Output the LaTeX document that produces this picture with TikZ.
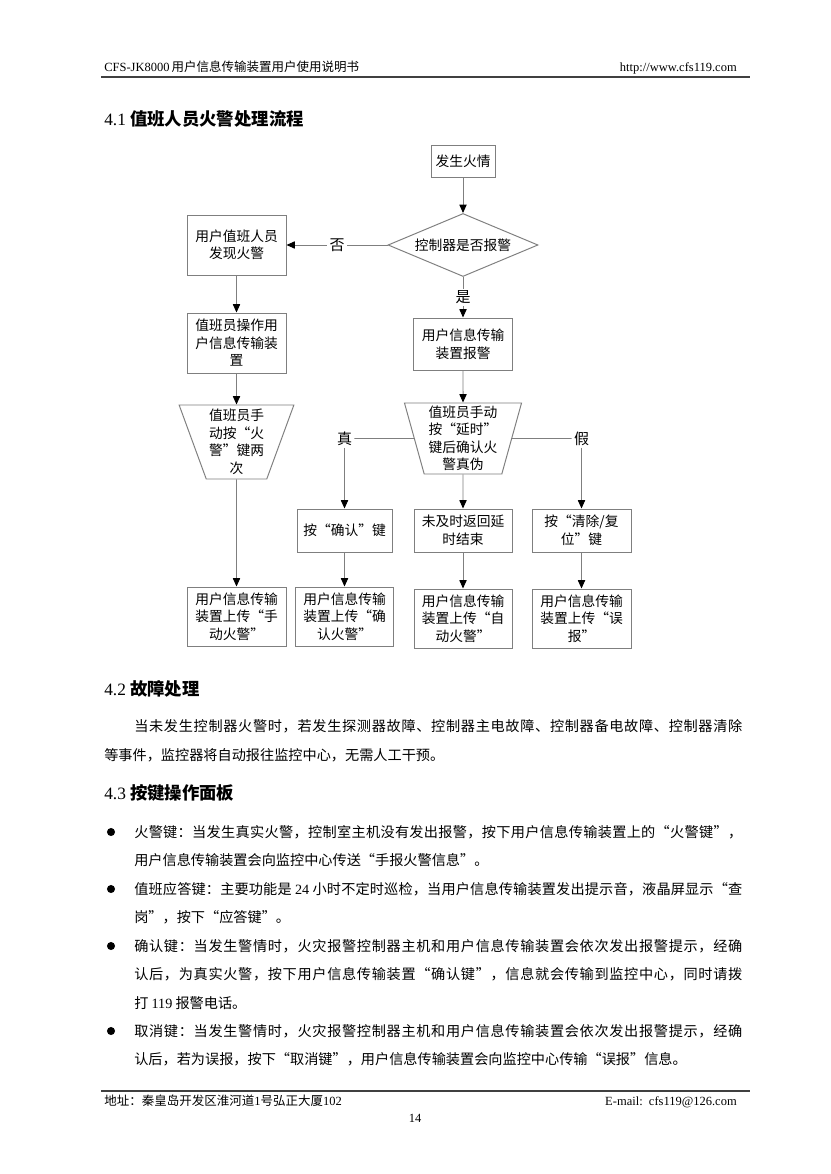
\documentclass[tikz,border=0pt]{standalone}
\usepackage{fontspec}
\setmainfont{Liberation Serif}
\newfontfamily\cjk{Noto Sans CJK SC}
\usetikzlibrary{shapes.geometric,arrows.meta}
\definecolor{lgray}{HTML}{7F7F7F}
\newcommand\rl[1]{{\rmfamily #1}}
\def\spend{SPEND}
\def\spr#1{#1\sprx}
\def\sprx#1{\ifx\spend#1\else\hskip0pt plus1fil#1\expandafter\sprx\fi}
\newcommand\jl[1]{\hbox to 437.8pt{\spr#1\spend}}
\newcommand\secnum[1]{{\rmfamily\mdseries #1}\hspace{3pt}}
\begin{document}
\begin{tikzpicture}[x=0.72pt,y=-0.72pt,
  flowbox/.style={draw=lgray,line width=0.7pt,inner sep=0pt,align=center,font=\cjk\fontsize{9.9}{12.6}\selectfont},
  sz/.style 2 args={minimum width={#1*0.72pt},minimum height={#2*0.72pt}},
  dia/.style={flowbox,diamond,aspect=2.4},
  trap/.style={flowbox,trapezium,shape border rotate=180,trapezium stretches=true},
  arr/.style={draw=lgray,line width=0.7pt,-{Triangle[length=6pt,width=5.2pt,color=black]}},
  ln/.style={draw=lgray,line width=0.7pt},
  lbl/.style={fill=white,inner sep=1.5pt,font=\cjk\fontsize{10.8}{12}\selectfont},
  txt/.style={anchor=west,inner sep=0pt,font=\cjk\fontsize{10.2}{12}\selectfont},
  sect/.style={anchor=west,inner sep=0pt,font=\cjk\bfseries\fontsize{12.5}{14}\selectfont},
  small/.style={inner sep=0pt,font=\fontsize{9}{10}\selectfont},
  rulestyle/.style={line width=1.6pt,draw=black!75},
]
\fill[white] (0,0) rectangle (830,1174);
\useasboundingbox (0,0) rectangle (830,1174);

% header
\node[small,anchor=base west] (hl) at (104,72) {CFS-JK8000\,{\cjk 用户信息传输装置用户使用说明书}};
\node[small,anchor=base east] (hr) at (737,72) {http://www.cfs119.com};
\draw[rulestyle] (101,77) -- (750,77);

% title
\node[sect] (t41) at (104,119) {\secnum{4.1}值班人员火警处理流程};

% flowchart
\node[flowbox,sz={64}{32}] (n1) at (463,161) {发生火情};
\node[dia,sz={150}{63}] (d) at (463,245) {控制器是否报警};
\node[flowbox,sz={99}{60}] (lb1) at (236.5,245) {用户值班人员\\发现火警};
\node[flowbox,sz={99}{60}] (lb2) at (236.5,343) {值班员操作用\\户信息传输装\\置};
\node[trap,sz={115}{74},trapezium left angle=69.3,trapezium right angle=69.3] (lt) at (236.5,442) {值班员手\\动按“火\\警”键两\\次};
\node[flowbox,sz={99}{59}] (lb3) at (236.5,616.5) {用户信息传输\\装置上传“手\\动火警”};

\node[flowbox,sz={99}{52}] (rb1) at (463,344) {用户信息传输\\装置报警};
\node[trap,sz={118}{71},trapezium left angle=75,trapezium right angle=75] (rt) at (463,438.5) {值班员手动\\按“延时”\\键后确认火\\警真伪};
\node[flowbox,sz={95}{43}] (c1) at (344.5,530.5) {按“确认”键};
\node[flowbox,sz={98}{43}] (c2) at (463,530.5) {未及时返回延\\时结束};
\node[flowbox,sz={99}{43}] (c3) at (581.5,530.5) {按“清除/复\\位”键};
\node[flowbox,sz={98}{59}] (e1) at (344.5,616.5) {用户信息传输\\装置上传“确\\认火警”};
\node[flowbox,sz={98}{59}] (e2) at (463,618.5) {用户信息传输\\装置上传“自\\动火警”};
\node[flowbox,sz={99}{59}] (e3) at (581.5,618.5) {用户信息传输\\装置上传“误\\报”};
\node[lbl] (zhen) at (344.5,438.5) {真};
\node[lbl] (jia) at (581.5,438.5) {假};

\draw[arr] (n1) -- (d);
\draw[arr] (d.west) -- node[lbl] {否} (lb1.east);
\draw[arr] (d.south) -- node[lbl] {是} (rb1.north);
\draw[arr] (lb1) -- (lb2);
\draw[arr] (lb2) -- (lt);
\draw[arr] (lt) -- (lb3);
\draw[arr] (rb1) -- (rt);
\draw[arr] (rt) -- (c2);
\draw[ln] (rt.west) -- (zhen.east);
\draw[arr] (zhen.south) -- (c1.north);
\draw[ln] (rt.east) -- (jia.west);
\draw[arr] (jia.south) -- (c3.north);
\draw[arr] (c1) -- (e1);
\draw[arr] (c2) -- (e2);
\draw[arr] (c3) -- (e3);

% 4.2
\node[sect] (t42) at (104,689) {\secnum{4.2}故障处理};
\node[txt] (p1) at (134,726) {\jl{当未发生控制器火警时，若发生探测器故障、控制器主电故障、控制器备电故障、控制器清除}};
\node[txt] (p2) at (104,755) {等事件，监控器将自动报往监控中心，无需人工干预。};

% 4.3
\node[sect] (t43) at (104,793) {\secnum{4.3}按键操作面板};
\foreach \yy in {832,889,946,1031} \fill (111,\yy) circle[radius=2.9pt];
\node[txt] (b1a) at (134,832) {\jl{火警键：当发生真实火警，控制室主机没有发出报警，按下用户信息传输装置上的“火警键”，}};
\node[txt] (b1b) at (134,860.5) {用户信息传输装置会向监控中心传送“手报火警信息”。};
\node[txt] (b2a) at (134,889) {\jl{值班应答键：主要功能是{\ \rl{24}\ }小时不定时巡检，当用户信息传输装置发出提示音，液晶屏显示“查}};
\node[txt] (b2b) at (134,917.5) {岗”，按下“应答键”。};
\node[txt] (b3a) at (134,946) {\jl{确认键：当发生警情时，火灾报警控制器主机和用户信息传输装置会依次发出报警提示，经确}};
\node[txt] (b3b) at (134,974.5) {\jl{认后，为真实火警，按下用户信息传输装置“确认键”，信息就会传输到监控中心，同时请拨}};
\node[txt] (b3c) at (134,1003) {打 \rl{119} 报警电话。};
\node[txt] (b4a) at (134,1031) {\jl{取消键：当发生警情时，火灾报警控制器主机和用户信息传输装置会依次发出报警提示，经确}};
\node[txt] (b4b) at (134,1059.5) {认后，若为误报，按下“取消键”，用户信息传输装置会向监控中心传输“误报”信息。};

% footer
\draw[rulestyle] (101,1091) -- (750,1091);
\node[small,anchor=base west] (fl) at (104,1105) {{\cjk 地址：秦皇岛开发区淮河道}1{\cjk 号弘正大厦}102};
\node[small,anchor=base east] (fr) at (737,1105) {E-mail:\ \ cfs119@126.com};
\node[small] (pg) at (415,1118) {14};
\end{tikzpicture}
\end{document}
